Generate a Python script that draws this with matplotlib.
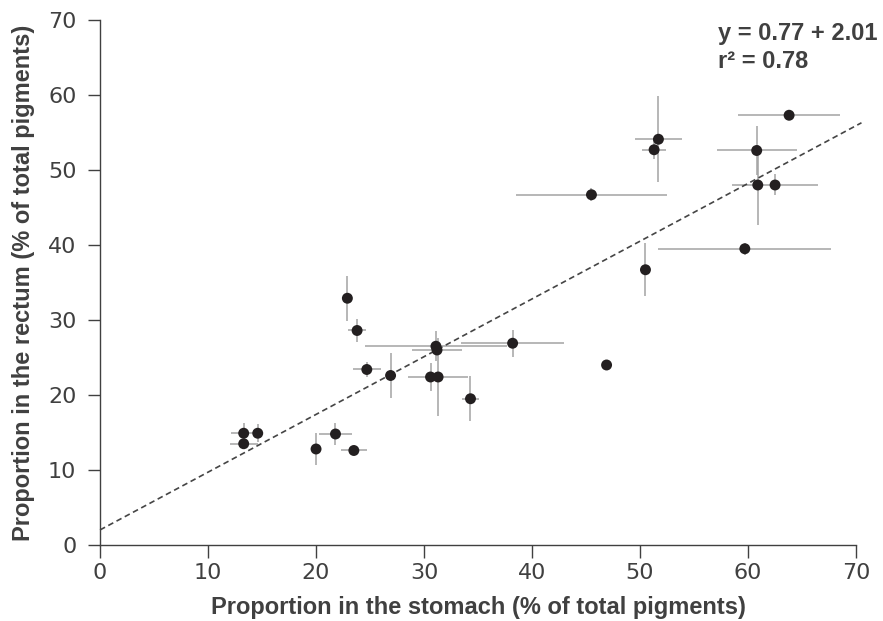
import matplotlib.pyplot as plt
import numpy as np

# Pigment proportions (% of total) per sample, with their spread
stomach = [63.8, 51.7, 51.3, 60.8, 60.9, 62.5, 45.5, 59.7, 50.5, 22.9, 23.8, 31.1, 31.2,
           38.2, 24.7, 26.9, 30.6, 31.3, 34.3, 13.3, 14.6, 13.3, 20.0, 21.8, 23.5, 46.9]
rectum = [57.3, 54.1, 52.7, 52.6, 48.0, 48.0, 46.7, 39.5, 36.7, 32.9, 28.6, 26.5, 26.0,
          26.9, 23.4, 22.6, 22.4, 22.4, 19.5, 14.9, 14.9, 13.5, 12.8, 14.8, 12.6, 24.0]
stomach_err = [4.7, 2.2, 1.1, 3.7, 0.0, 4.0, 7.0, 8.0, 0.0, 0.0, 0.85, 6.6, 2.3,
               4.8, 1.3, 0.0, 0.0, 2.8, 0.8, 1.2, 0.0, 1.3, 0.0, 1.5, 1.2, 0.0]
rectum_err = [0.0, 5.7, 1.3, 3.3, 5.3, 1.4, 0.9, 0.8, 3.5, 3.0, 1.5, 2.0, 0.0,
              1.8, 1.0, 3.0, 1.9, 5.2, 3.0, 1.4, 1.2, 0.0, 2.1, 1.5, 0.0, 0.0]

# Linear fit reported on the chart
fit_intercept = 2.01
fit_slope = 0.77
r_squared = 0.78

TEXT = "#404040"
BOLD = dict(family=["Liberation Sans", "DejaVu Sans"], weight="bold", color=TEXT)

fig = plt.figure(figsize=(8.83, 6.21), dpi=100)
ax = fig.add_axes([0.1133, 0.1224, 0.8562, 0.8454])

ax.errorbar(stomach, rectum, xerr=stomach_err, yerr=rectum_err, fmt="none",
            ecolor="#a3a3a3", elinewidth=1.1, capsize=0, zorder=2)

fit_x = np.array([0.0, 70.5])
ax.plot(fit_x, fit_intercept + fit_slope * fit_x, ls=(0, (3.4, 2.2)),
        color="#454545", lw=1.2, zorder=3, clip_on=False)

ax.scatter(stomach, rectum, s=62, color="#231f20", edgecolors="none", zorder=4)

ax.set_xlim(0, 70)
ax.set_ylim(0, 70)
ax.set_xticks(range(0, 71, 10))
ax.set_yticks(range(0, 71, 10))

for side in ("top", "right"):
    ax.spines[side].set_visible(False)
for side in ("left", "bottom"):
    ax.spines[side].set_color(TEXT)
    ax.spines[side].set_linewidth(1.0)

ax.tick_params(axis="both", direction="out", color=TEXT, width=1.0, length=9,
               labelsize=16, labelcolor=TEXT)
ax.tick_params(axis="y", pad=8)
ax.tick_params(axis="x", pad=4)

ax.set_xlabel("Proportion in the stomach (% of total pigments)", fontsize=17,
              labelpad=9, **BOLD)
ax.set_ylabel("Proportion in the rectum (% of total pigments)", fontsize=17,
              labelpad=9, **BOLD)

ax.text(57.2, 67.3, f"y = {fit_slope:.2f} + {fit_intercept:.2f}", fontsize=17,
        ha="left", va="baseline", clip_on=False, **BOLD)
ax.text(57.2, 63.6, f"r² = {r_squared:.2f}", fontsize=17,
        ha="left", va="baseline", clip_on=False, **BOLD)

fig.savefig("out.png", dpi=100)
